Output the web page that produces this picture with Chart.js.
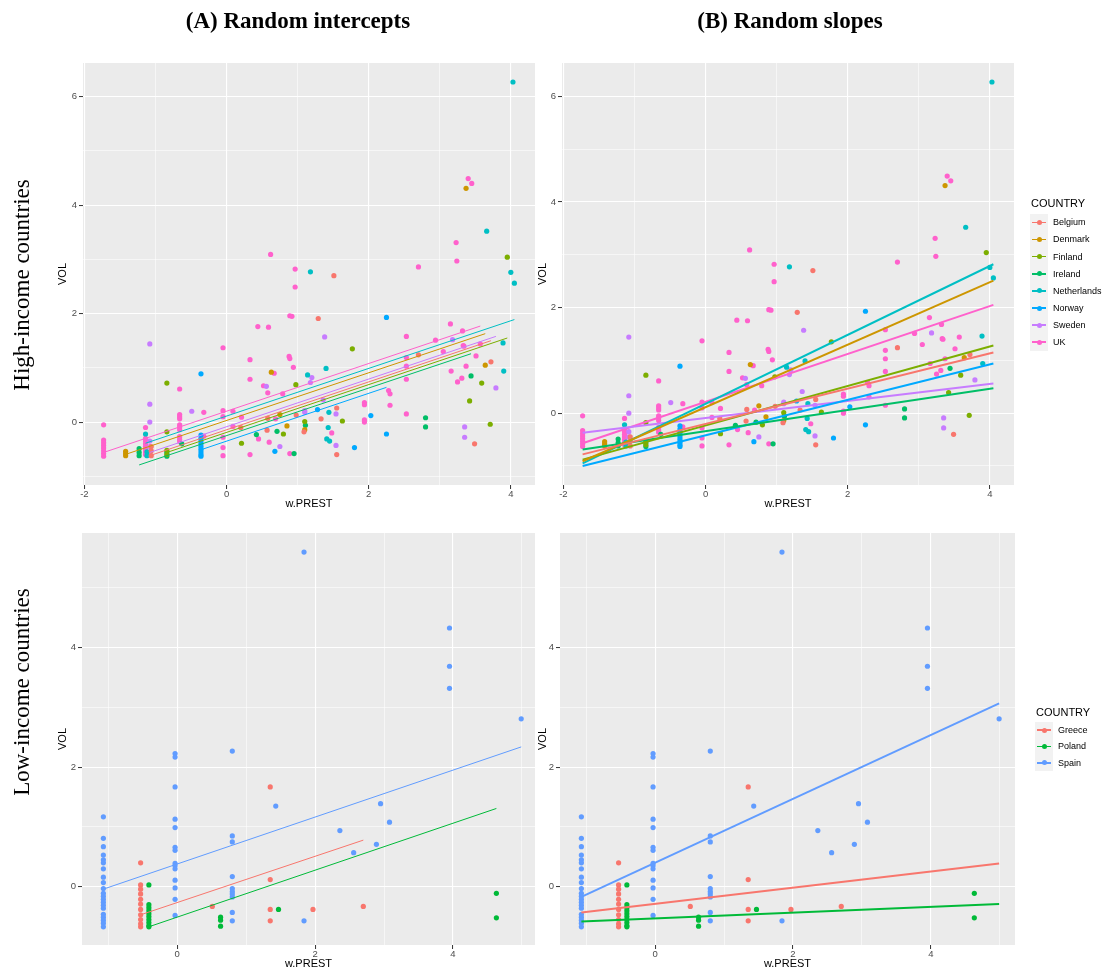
<!DOCTYPE html>
<html>
<head>
<meta charset="utf-8">
<script src="https://cdn.jsdelivr.net/npm/chart.js@4.4.1/dist/chart.umd.min.js"></script>
<style>
  html, body { margin:0; padding:0; background:#ffffff; }
  #wrap { position:relative; width:1114px; height:972px; overflow:hidden; background:#fff; }
  canvas.layer { position:absolute; left:0; top:0; }
  .head { position:absolute; font-family:"Liberation Serif","Times New Roman",serif; font-weight:bold; font-size:23px; white-space:nowrap; transform:translate(-50%,-50%); color:#000; }
  .rowlab { position:absolute; font-family:"Liberation Serif","Times New Roman",serif; font-size:23px; white-space:nowrap; transform:translate(-50%,-50%) rotate(-90deg); color:#000; }
  .lg-title { position:absolute; font-family:"Liberation Sans",Arial,sans-serif; font-size:11px; color:#000; white-space:nowrap; transform:translateY(-50%); }
  .lg-key { position:absolute; background:#F2F2F2; }
  .lg-line { position:absolute; height:1.6px; }
  .lg-dot { position:absolute; width:5px; height:5px; border-radius:50%; }
  .lg-text { position:absolute; font-family:"Liberation Sans",Arial,sans-serif; font-size:9px; color:#000; white-space:nowrap; transform:translateY(-50%); }
</style>
</head>
<body>
<div id="wrap">
  <canvas id="cTL" class="layer" width="1114" height="972"></canvas>
  <canvas id="cTR" class="layer" width="1114" height="972"></canvas>
  <canvas id="cBL" class="layer" width="1114" height="972"></canvas>
  <canvas id="cBR" class="layer" width="1114" height="972"></canvas>
  <div class="head" style="left:298px;top:21px;">(A) Random intercepts</div>
  <div class="head" style="left:790px;top:21px;">(B) Random slopes</div>
  <div class="rowlab" style="left:22px;top:285px;">High-income countries</div>
  <div class="rowlab" style="left:22px;top:692px;">Low-income countries</div>
</div>
<script>
// ---------------- DATA ----------------
const HIGH_COUNTRIES = ['Belgium','Denmark','Finland','Ireland','Netherlands','Norway','Sweden','UK'];
const LOW_COUNTRIES = ['Greece','Poland','Spain'];

const BELGIUM = [[-1.06,-0.45],[-1.06,-0.53],[-1.06,-0.62],[0.20,-0.10],[0.57,-0.15],[0.58,0.07],[0.98,0.13],[1.09,-0.18],[1.29,1.91],[1.33,0.06],[1.51,2.70],[1.55,0.26],[1.55,-0.60],[2.70,1.24],[3.49,-0.40],[3.72,1.11]];
const DENMARK = [[-1.42,-0.54],[-1.42,-0.58],[-1.42,-0.62],[0.63,0.92],[0.75,0.14],[0.85,-0.07],[1.10,-0.14],[3.37,4.31],[3.64,1.05]];
const FINLAND = [[-0.84,0.72],[-0.84,-0.18],[-0.84,-0.52],[-0.84,-0.60],[0.21,-0.39],[0.80,-0.22],[0.975,0.69],[1.10,0.01],[1.63,0.02],[1.77,1.35],[3.42,0.39],[3.59,0.72],[3.71,-0.04],[3.95,3.04]];
const IRELAND = [[-1.23,-0.49],[-1.23,-0.56],[-1.23,-0.62],[-0.84,-0.56],[-0.84,-0.63],[-0.63,-0.40],[0.42,-0.23],[0.71,-0.17],[0.95,-0.58],[1.11,-0.06],[2.80,0.08],[2.80,-0.09],[3.44,0.85]];
const NETHERLANDS = [[-1.14,-0.22],[-1.12,-0.55],[-1.12,-0.62],[1.14,0.87],[1.18,2.77],[1.40,0.99],[1.44,0.18],[1.43,-0.10],[1.41,-0.31],[1.45,-0.35],[3.66,3.52],[3.89,1.46],[3.90,0.94],[4.00,2.76],[4.03,6.27],[4.05,2.56]];
const NORWAY = [[-0.36,0.89],[-0.36,-0.24],[-0.36,-0.30],[-0.36,-0.35],[-0.36,-0.40],[-0.36,-0.45],[-0.36,-0.50],[-0.36,-0.55],[-0.36,-0.60],[-0.36,-0.63],[0.68,-0.54],[1.28,0.23],[1.80,-0.47],[2.03,0.12],[2.25,1.93],[2.25,-0.22]];
const SWEDEN = [[-1.08,1.44],[-1.08,0.33],[-1.08,0.00],[-1.08,-0.35],[-1.08,-0.45],[-1.08,-0.55],[-1.08,-0.60],[-0.49,0.20],[0.56,0.66],[0.75,-0.45],[1.10,0.21],[1.10,0.18],[1.18,0.73],[1.20,0.82],[1.36,0.41],[1.38,1.57],[1.54,0.15],[1.54,-0.43],[3.18,1.52],[3.35,-0.09],[3.35,-0.28],[3.79,0.63]];
const UK = [[-1.73,-0.05],[-1.73,-0.33],[-1.73,-0.38],[-1.73,-0.43],[-1.73,-0.48],[-1.73,-0.53],[-1.73,-0.58],[-1.73,-0.63],
  [-1.14,-0.10],[-1.14,-0.30],[-1.14,-0.35],[-1.14,-0.40],[-1.14,-0.45],[-1.14,-0.50],[-1.14,-0.55],[-1.14,-0.60],
  [-0.66,0.61],[-0.66,0.14],[-0.66,0.10],[-0.66,0.06],[-0.66,-0.05],[-0.66,-0.09],[-0.66,-0.14],[-0.66,-0.27],[-0.66,-0.32],[-0.66,-0.36],
  [-0.32,0.18],[-0.32,-0.26],
  [-0.05,1.37],[-0.05,0.21],[-0.05,0.10],[-0.05,-0.28],[-0.05,-0.47],[-0.05,-0.62],
  [0.09,0.20],[0.09,-0.08],[0.21,0.09],[0.33,1.15],[0.33,0.79],[0.33,-0.60],[0.44,1.76],[0.45,-0.31],[0.52,0.67],[0.58,0.54],[0.59,1.75],[0.60,-0.37],
  [0.62,3.09],[0.67,0.90],[0.69,0.06],[0.79,0.52],[0.88,1.21],[0.89,1.17],[0.89,1.96],[0.92,1.95],[0.89,-0.58],[0.94,1.01],[0.965,2.82],[0.965,2.49],[1.48,-0.20],
  [1.94,0.36],[1.94,0.32],[1.94,0.04],[1.94,0.00],[2.28,0.58],[2.30,0.52],[2.30,0.31],[2.53,1.58],[2.53,1.19],[2.53,1.03],[2.53,0.79],[2.53,0.15],
  [2.70,2.86],[2.94,1.51],[3.05,1.30],[3.15,1.81],[3.16,0.94],[3.23,3.31],[3.24,2.97],[3.25,0.74],[3.31,0.81],[3.32,1.68],[3.33,1.41],[3.34,1.40],
  [3.37,1.03],[3.40,4.49],[3.45,4.40],[3.51,1.22],[3.57,1.44]];

const GREECE = [[-0.53,0.40],[-0.53,0.03],[-0.53,-0.04],[-0.53,-0.12],[-0.53,-0.21],[-0.53,-0.29],[-0.53,-0.38],[-0.53,-0.47],[-0.53,-0.55],[-0.53,-0.62],[-0.53,-0.67],
  [0.51,-0.33],[1.35,1.67],[1.35,0.12],[1.35,-0.38],[1.35,-0.57],[1.97,-0.38],[2.70,-0.33]];
const POLAND = [[-0.41,0.03],[-0.41,-0.30],[-0.41,-0.35],[-0.41,-0.40],[-0.41,-0.45],[-0.41,-0.50],[-0.41,-0.55],[-0.41,-0.60],[-0.41,-0.65],[-0.41,-0.67],
  [0.63,-0.51],[0.63,-0.56],[0.63,-0.66],[1.47,-0.38],[4.63,-0.11],[4.63,-0.52]];
const SPAIN = [[-1.07,1.17],[-1.07,0.81],[-1.07,0.67],[-1.07,0.53],[-1.07,0.45],[-1.07,0.40],[-1.07,0.30],[-1.07,0.16],[-1.07,0.07],[-1.07,-0.03],[-1.07,-0.11],[-1.07,-0.16],[-1.07,-0.21],[-1.07,-0.26],[-1.07,-0.31],[-1.07,-0.36],[-1.07,-0.46],[-1.07,-0.51],[-1.07,-0.56],[-1.07,-0.61],[-1.07,-0.67],
  [-0.03,2.23],[-0.03,2.17],[-0.03,1.67],[-0.03,1.13],[-0.03,0.99],[-0.03,0.66],[-0.03,0.61],[-0.03,0.39],[-0.03,0.35],[-0.03,0.30],[-0.03,0.11],[-0.03,-0.02],[-0.03,-0.21],[-0.03,-0.48],
  [0.80,2.27],[0.80,0.85],[0.80,0.75],[0.80,0.17],[0.80,-0.03],[0.80,-0.08],[0.80,-0.12],[0.80,-0.17],[0.80,-0.43],[0.80,-0.57],
  [1.43,1.35],[1.84,5.60],[1.84,-0.57],[2.36,0.94],[2.56,0.57],[2.89,0.71],[2.95,1.39],[3.08,1.08],[3.95,4.33],[3.95,3.69],[3.95,3.32],[4.99,2.81]];

// fitted lines: [x0, y0, x1, y1] per country (same order as the country lists)
const HIGH_INTERCEPT_LINES = [[-1.06,-0.61,3.72,1.50],[-1.42,-0.595,3.64,1.63],[-0.84,-0.56,3.95,1.55],[-1.23,-0.79,3.44,1.26],[-1.14,-0.39,4.05,1.89],[-0.36,-0.51,2.25,0.64],[-1.08,-0.56,3.79,1.58],[-1.73,-0.56,3.57,1.77]];
const HIGH_SLOPE_LINES = [[-1.73,-0.78,4.05,1.15],[-1.73,-0.91,4.05,2.51],[-1.73,-0.88,4.05,1.28],[-1.73,-0.69,4.05,0.47],[-1.73,-0.95,4.05,2.82],[-1.73,-1.00,4.05,0.94],[-1.73,-0.37,4.05,0.56],[-1.73,-0.57,4.05,2.05]];
const LOW_INTERCEPT_LINES = [[-0.53,-0.47,2.70,0.78],[-0.41,-0.67,4.63,1.31],[-1.07,-0.04,4.99,2.34]];
const LOW_SLOPE_LINES = [[-1.07,-0.43,4.99,0.39],[-1.07,-0.58,4.99,-0.29],[-1.07,-0.17,4.99,3.07]];

// tick values
const HIGH_X_MAJOR = [-2,0,2,4], HIGH_X_MINOR = [-1,1,3];
const HIGH_Y_MAJOR = [0,2,4,6], HIGH_Y_MINOR = [-1,1,3,5];
const LOW_X_MAJOR = [0,2,4], LOW_X_MINOR = [-1,1,3,5];
const LOW_Y_MAJOR = [0,2,4], LOW_Y_MINOR = [1,3,5];

// ---------------- STYLE ----------------
const HIGH_POINTS = [BELGIUM, DENMARK, FINLAND, IRELAND, NETHERLANDS, NORWAY, SWEDEN, UK];
const LOW_POINTS = [GREECE, POLAND, SPAIN];
const HIGH_COLORS = ['#F8766D','#CD9600','#7CAE00','#00BE67','#00BFC4','#00A9FF','#C77CFF','#FF61CC'];
const LOW_COLORS = ['#F8766D','#00BA38','#619CFF'];
const SANS = '"Liberation Sans", Arial, Helvetica, sans-serif';
Chart.defaults.font.family = SANS;

const bgPlugin = {
  id: 'panelBg',
  beforeDraw(chart) {
    const {ctx, chartArea: a} = chart;
    ctx.save();
    ctx.fillStyle = '#EBEBEB';
    ctx.fillRect(a.left, a.top, a.right - a.left, a.bottom - a.top);
    ctx.restore();
  }
};

function buildDatasets(pointsList, colors, lines, lineWidth) {
  const ds = [];
  pointsList.forEach((pts, i) => {
    ds.push({
      data: pts.map(p => ({x: p[0], y: p[1]})),
      backgroundColor: colors[i], pointBackgroundColor: colors[i],
      pointRadius: 2.6, pointBorderWidth: 0, borderWidth: 0,
      pointHoverRadius: 2.6, showLine: false, order: 2
    });
  });
  lines.forEach((l, i) => {
    ds.push({
      data: [{x: l[0], y: l[1]}, {x: l[2], y: l[3]}],
      borderColor: colors[i], borderWidth: lineWidth, showLine: true,
      pointRadius: 0, pointHoverRadius: 0, fill: false, order: 1
    });
  });
  return ds;
}

function makePanel(id, o) {
  const W = 1114, H = 972, tsize = 11, half = tsize * 1.2 / 2;
  const padL = o.vx - half, padB = H - o.hy - half;
  const near = (arr, v) => arr.some(m => Math.abs(m - v) < 1e-9);
  function axis(min, max, major, minor, title, isX) {
    const all = major.concat(minor).sort((a, b) => a - b);
    return {
      type: 'linear', min: min, max: max,
      afterBuildTicks: s => { s.ticks = all.map(v => ({value: v})); },
      afterFit: s => {
        if (isX) s.height = (H - padB) - o.area.b;
        else s.width = o.area.l - padL;
      },
      ticks: {
        autoSkip: false, maxRotation: 0, minRotation: 0,
        padding: isX ? 0 : 2,
        color: '#4D4D4D', font: {family: SANS, size: 9.5},
        callback: v => near(major, v) ? String(v) : ''
      },
      grid: {
        drawOnChartArea: true, drawTicks: true, tickLength: 4,
        color: c => '#FFFFFF',
        lineWidth: c => (c.tick && near(major, c.tick.value)) ? 1.1 : 0.55,
        tickColor: c => (c.tick && near(major, c.tick.value)) ? '#333333' : 'rgba(0,0,0,0)',
        tickWidth: 1
      },
      border: {display: false},
      title: {display: true, text: title, color: '#000', font: {family: SANS, size: tsize}, padding: 0}
    };
  }
  return new Chart(document.getElementById(id), {
    type: 'scatter',
    data: {datasets: o.datasets},
    options: {
      responsive: false, animation: false, events: [],
      devicePixelRatio: 1,
      layout: {padding: {left: padL, top: o.area.t, right: W - o.area.r, bottom: padB}},
      plugins: {legend: {display: false}, tooltip: {enabled: false}},
      scales: {
        x: axis(o.xr[0], o.xr[1], o.xMajor, o.xMinor, 'w.PREST', true),
        y: axis(o.yr[0], o.yr[1], o.yMajor, o.yMinor, 'VOL', false)
      }
    },
    plugins: [bgPlugin]
  });
}

makePanel('cTL', {area: {l: 83, t: 63, r: 535, b: 485}, vx: 63, hy: 504,
  xr: [-2.02, 4.34], yr: [-1.16, 6.62], xMajor: HIGH_X_MAJOR, xMinor: HIGH_X_MINOR, yMajor: HIGH_Y_MAJOR, yMinor: HIGH_Y_MINOR,
  datasets: buildDatasets(HIGH_POINTS, HIGH_COLORS, HIGH_INTERCEPT_LINES, 1)});
makePanel('cTR', {area: {l: 562, t: 63, r: 1014, b: 485}, vx: 543, hy: 504,
  xr: [-2.02, 4.34], yr: [-1.36, 6.63], xMajor: HIGH_X_MAJOR, xMinor: HIGH_X_MINOR, yMajor: HIGH_Y_MAJOR, yMinor: HIGH_Y_MINOR,
  datasets: buildDatasets(HIGH_POINTS, HIGH_COLORS, HIGH_SLOPE_LINES, 2)});
makePanel('cBL', {area: {l: 82, t: 533, r: 535, b: 945}, vx: 63, hy: 964,
  xr: [-1.38, 5.19], yr: [-0.975, 5.92], xMajor: LOW_X_MAJOR, xMinor: LOW_X_MINOR, yMajor: LOW_Y_MAJOR, yMinor: LOW_Y_MINOR,
  datasets: buildDatasets(LOW_POINTS, LOW_COLORS, LOW_INTERCEPT_LINES, 1)});
makePanel('cBR', {area: {l: 560, t: 533, r: 1015, b: 945}, vx: 543, hy: 964,
  xr: [-1.38, 5.22], yr: [-0.975, 5.92], xMajor: LOW_X_MAJOR, xMinor: LOW_X_MINOR, yMajor: LOW_Y_MAJOR, yMinor: LOW_Y_MINOR,
  datasets: buildDatasets(LOW_POINTS, LOW_COLORS, LOW_SLOPE_LINES, 2)});

// ---------------- LEGENDS (HTML text) ----------------
function legend(names, colors, o) {
  const wrap = document.getElementById('wrap');
  const t = document.createElement('div');
  t.className = 'lg-title'; t.textContent = 'COUNTRY';
  t.style.left = o.titleX + 'px'; t.style.top = o.titleY + 'px';
  wrap.appendChild(t);
  names.forEach((n, i) => {
    const cy = o.y0 + i * o.step;
    const k = document.createElement('div');
    k.className = 'lg-key';
    k.style.left = o.keyX + 'px'; k.style.top = (cy - o.step / 2) + 'px';
    k.style.width = o.keyW + 'px'; k.style.height = o.step + 'px';
    wrap.appendChild(k);
    const ln = document.createElement('div');
    ln.className = 'lg-line'; ln.style.background = colors[i];
    ln.style.left = (o.keyX + 2) + 'px'; ln.style.top = (cy - 0.8) + 'px'; ln.style.width = (o.keyW - 4) + 'px';
    wrap.appendChild(ln);
    const d = document.createElement('div');
    d.className = 'lg-dot'; d.style.background = colors[i];
    d.style.left = (o.keyX + o.keyW / 2 - 2.5) + 'px'; d.style.top = (cy - 2.5) + 'px';
    wrap.appendChild(d);
    const tx = document.createElement('div');
    tx.className = 'lg-text'; tx.textContent = n;
    tx.style.left = o.textX + 'px'; tx.style.top = cy + 'px';
    wrap.appendChild(tx);
  });
}
legend(HIGH_COUNTRIES, HIGH_COLORS, {titleX: 1031, titleY: 203, y0: 222.3, step: 17.14, keyX: 1030, keyW: 18, textX: 1053});
legend(LOW_COUNTRIES, LOW_COLORS, {titleX: 1036, titleY: 712, y0: 730, step: 16.4, keyX: 1035, keyW: 18, textX: 1058});
</script>
</body>
</html>
